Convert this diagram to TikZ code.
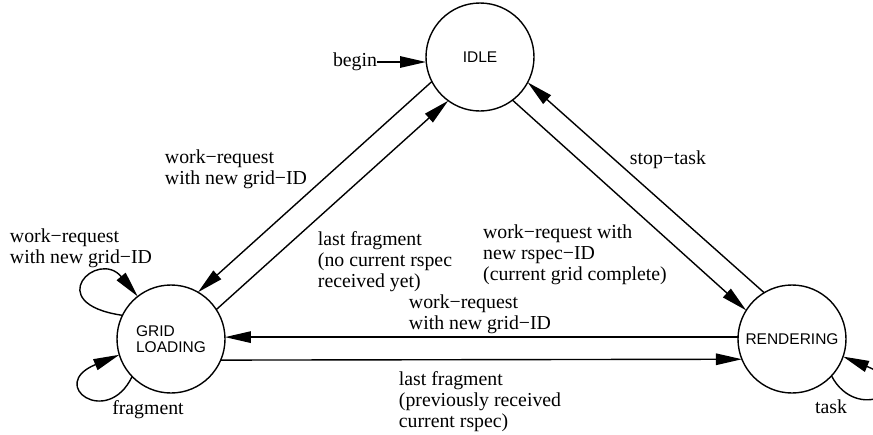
\documentclass[tikz,border=0pt]{standalone}
\usepackage{fontspec}
\setmainfont{Liberation Serif}
\newfontfamily\statefont{Liberation Sans}
\usetikzlibrary{arrows.meta}

\tikzset{
  state/.style={circle, draw, line width=1.4pt, minimum size=108pt, inner sep=0pt,
                outer sep=0pt, font=\statefont\fontsize{15.5}{16.5}\selectfont, align=left},
  lbl/.style={font=\fontsize{19.8}{21}\selectfont, align=left, inner sep=0pt},
  edge/.style={line width=1.4pt, -{Triangle[length=26pt,width=11.5pt]}},
}

\begin{document}
\begin{tikzpicture}[x=1pt, y=-1pt]
  \useasboundingbox (0,0) rectangle (873,434);
  \clip (0,0) rectangle (873,434);

  % states
  \node[state] (idle)   at (480,57)  {IDLE};
  \node[state] (grid)   at (171,339) {GRID\\LOADING};
  \node[state] (render) at (792,339) {RENDERING};

  % entry
  \node[lbl] (begin) at (355,62) {begin};
  \draw[edge] (begin.east) -- (begin.east -| idle.west);

  % IDLE <-> GRID LOADING
  \draw[edge] (idle.207) -- (grid.60);
  \draw[edge] (grid.33) -- (idle.234);
  \node[lbl] (l1) at (236,169) {work−request\\with new grid−ID};
  \node[lbl] (l2) at (385,262) {last fragment\\(no current rspec\\received yet)};

  % IDLE <-> RENDERING
  \draw[edge] (idle.307) -- (render.148);
  \draw[edge] (render.121) -- (idle.332);
  \node[lbl] (l3) at (668,160) {stop−task};
  \node[lbl] (l4) at (575,255) {work−request with\\new rspec−ID\\(current grid complete)};

  % RENDERING <-> GRID LOADING
  \draw[edge] (render.178) -- (grid.2);
  \draw[edge] (grid.337.6) -- (render.202.4);
  \node[lbl] (l5) at (480,314) {work−request\\with new grid−ID};
  \node[lbl] (l6) at (480,402) {last fragment\\(previously received\\current rspec)};

  % self loops
  \draw[edge] (grid.154) .. controls +(-82,-12) and +(-40,-48) .. (grid.128);
  \node[lbl] (l7) at (81,248) {work−request\\with new grid−ID};
  \draw[edge] (grid.224) .. controls +(-25,52) and +(-73,30) .. (grid.197);
  \node[lbl] (l8) at (148,410) {fragment};
  \draw[edge] (render.317) .. controls +(25,48) and +(78,32) .. (render.341);
  \node[lbl] (l9) at (831,407) {task};
\end{tikzpicture}
\end{document}
